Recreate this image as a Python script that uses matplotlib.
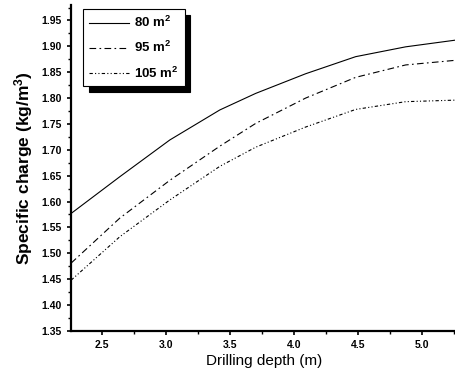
import matplotlib
matplotlib.use("Agg")
import matplotlib.pyplot as plt
from matplotlib.ticker import MultipleLocator, FormatStrFormatter

depth = [2.26, 2.64, 3.03, 3.42, 3.70, 4.09, 4.48, 4.87, 5.26]
charge_80 = [1.577, 1.648, 1.719, 1.777, 1.809, 1.847, 1.880, 1.899, 1.912]
charge_95 = [1.481, 1.568, 1.641, 1.707, 1.751, 1.800, 1.840, 1.864, 1.873]
charge_105 = [1.448, 1.532, 1.603, 1.668, 1.705, 1.744, 1.778, 1.793, 1.796]
labels = ["80 m$^2$", "95 m$^2$", "105 m$^2$"]

plt.rcParams['font.family'] = ['Liberation Sans', 'DejaVu Sans']
plt.rcParams['mathtext.default'] = 'regular'

fig = plt.figure(figsize=(4.56, 3.79), dpi=100)
ax = fig.add_axes([0.156, 0.127, 0.846, 0.860])

ax.plot(depth, charge_80, color='black', lw=0.8, ls='-', label=labels[0])
ax.plot(depth, charge_95, color='black', lw=0.8, ls=(0, (6, 3, 1.5, 3)), label=labels[1])
ax.plot(depth, charge_105, color='black', lw=0.8, ls=(0, (3, 2, 1, 2, 1, 2)), label=labels[2])

ax.set_xlim(2.26, 5.27)
ax.set_ylim(1.35, 1.98)
ax.xaxis.set_major_locator(MultipleLocator(0.5))
ax.xaxis.set_minor_locator(MultipleLocator(0.25))
ax.yaxis.set_major_locator(MultipleLocator(0.05))
ax.yaxis.set_minor_locator(MultipleLocator(0.025))
ax.xaxis.set_major_formatter(FormatStrFormatter('%.1f'))
ax.yaxis.set_major_formatter(FormatStrFormatter('%.2f'))

ax.spines['top'].set_visible(False)
ax.spines['right'].set_visible(False)
ax.spines['left'].set_linewidth(1.6)
ax.spines['bottom'].set_linewidth(1.6)
ax.tick_params(which='major', direction='out', length=3, width=1.2, labelsize=7.5)
ax.tick_params(which='minor', direction='out', length=2, width=1.0)
for lab in ax.get_xticklabels() + ax.get_yticklabels():
    lab.set_fontweight('bold')

ax.set_xlabel("Drilling depth (m)", fontsize=11, labelpad=3)
ax.set_ylabel("Specific charge (kg/m$^3$)", fontsize=12.5, fontweight='bold', labelpad=5)

leg = ax.legend(loc='upper left', bbox_to_anchor=(0.025, 0.995), fancybox=False,
                shadow={'color': 'black', 'alpha': 1.0, 'ox': 4, 'oy': -4},
                edgecolor='black', framealpha=1, handlelength=3.0, handletextpad=0.4,
                borderpad=0.45, labelspacing=0.75, borderaxespad=0.2,
                prop={'weight': 'bold', 'size': 9.5})
leg.get_frame().set_linewidth(0.8)

fig.savefig("out.png", dpi=100)
